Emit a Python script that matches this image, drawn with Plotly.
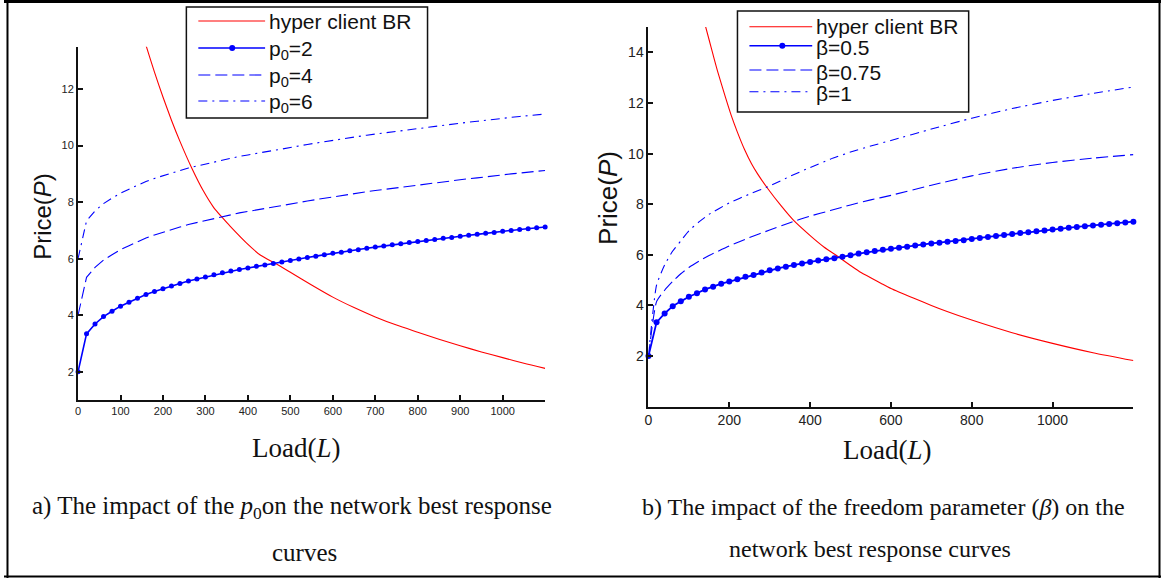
import plotly.graph_objects as go

# ---------------- data ----------------
# panel (a): impact of p0
load_a = list(range(0, 1101, 20))
p0_2 = [2.00, 3.34, 3.69, 3.95, 4.14, 4.32, 4.46, 4.60, 4.73, 4.84,
        4.94, 5.03, 5.12, 5.21, 5.28, 5.35, 5.43, 5.50, 5.56, 5.62,
        5.67, 5.73, 5.78, 5.83, 5.88, 5.94, 5.99, 6.04, 6.09, 6.14,
        6.19, 6.23, 6.28, 6.32, 6.37, 6.41, 6.45, 6.49, 6.53, 6.57,
        6.61, 6.64, 6.68, 6.72, 6.75, 6.79, 6.83, 6.86, 6.90, 6.93,
        6.97, 7.00, 7.03, 7.06, 7.09, 7.12]
p0_4 = [4.00, 5.34, 5.69, 5.95, 6.14, 6.32, 6.46, 6.60, 6.73, 6.84,
        6.94, 7.03, 7.12, 7.21, 7.28, 7.35, 7.43, 7.50, 7.56, 7.62,
        7.67, 7.73, 7.78, 7.83, 7.88, 7.94, 7.99, 8.04, 8.09, 8.14,
        8.19, 8.23, 8.28, 8.32, 8.37, 8.41, 8.45, 8.49, 8.53, 8.57,
        8.61, 8.64, 8.68, 8.72, 8.75, 8.79, 8.83, 8.86, 8.90, 8.93,
        8.97, 9.00, 9.03, 9.06, 9.09, 9.12]
p0_6 = [6.00, 7.34, 7.69, 7.95, 8.14, 8.32, 8.46, 8.60, 8.73, 8.84,
        8.94, 9.03, 9.12, 9.21, 9.28, 9.35, 9.43, 9.50, 9.56, 9.62,
        9.67, 9.73, 9.78, 9.83, 9.88, 9.94, 9.99, 10.04, 10.09, 10.14,
        10.19, 10.23, 10.28, 10.32, 10.37, 10.41, 10.45, 10.49, 10.53, 10.57,
        10.61, 10.64, 10.68, 10.72, 10.75, 10.79, 10.83, 10.86, 10.90, 10.93,
        10.97, 11.00, 11.03, 11.06, 11.09, 11.12]
br_load_a = [150, 161, 180, 200, 220, 240, 268, 295, 320, 340, 358, 397, 430,
             465, 500, 550, 600, 650, 700, 750, 800, 850, 900, 950, 1000,
             1050, 1100]
br_price_a = [14.05, 13.50, 12.60, 11.72, 10.90, 10.15, 9.20, 8.40, 7.80, 7.45,
              7.15, 6.55, 6.12, 5.83, 5.52, 5.07, 4.64, 4.27, 3.94, 3.65,
              3.40, 3.15, 2.92, 2.70, 2.50, 2.30, 2.12]

# panel (b): impact of beta
load_b = list(range(0, 1201, 20))
beta_05 = [2.00, 3.33, 3.68, 3.97, 4.16, 4.34, 4.48, 4.63, 4.74, 4.86,
           4.94, 5.03, 5.13, 5.20, 5.30, 5.39, 5.46, 5.53, 5.60, 5.66,
           5.72, 5.77, 5.82, 5.86, 5.92, 5.98, 6.05, 6.10, 6.15, 6.20,
           6.24, 6.28, 6.32, 6.37, 6.41, 6.45, 6.48, 6.52, 6.55, 6.58,
           6.62, 6.66, 6.70, 6.74, 6.78, 6.82, 6.86, 6.89, 6.93, 6.96,
           7.00, 7.03, 7.07, 7.10, 7.13, 7.16, 7.19, 7.22, 7.25, 7.28,
           7.31]
load_b_dash = [0, 20, 40, 60, 80, 100, 125, 150, 200, 250, 300, 350, 400,
               450, 500, 550, 600, 700, 800, 900, 1000, 1100, 1200]
beta_075 = [2.00, 4.15, 4.60, 4.95, 5.25, 5.50, 5.75, 5.97, 6.35, 6.68, 6.98,
            7.27, 7.53, 7.75, 7.97, 8.17, 8.35, 8.75, 9.12, 9.42, 9.65, 9.82,
            9.96]
beta_1 = [2.00, 4.80, 5.60, 6.15, 6.55, 6.95, 7.30, 7.60, 8.05, 8.40, 8.72,
          9.10, 9.45, 9.78, 10.06, 10.30, 10.52, 10.97, 11.40, 11.78, 12.10,
          12.38, 12.63]
br_load_b = [140, 150, 160, 172, 190, 205, 220, 238, 255, 270, 296, 329, 358,
             403, 435, 469, 500, 526, 575, 600, 657, 700, 739, 800, 900, 1000,
             1100, 1200]
br_price_b = [15.10, 14.50, 13.90, 13.20, 12.25, 11.50, 10.85, 10.15, 9.60, 9.20,
              8.60, 7.92, 7.38, 6.72, 6.30, 5.93, 5.58, 5.30, 4.88, 4.67, 4.28,
              4.00, 3.76, 3.42, 2.92, 2.50, 2.13, 1.82]

ticks_xa = list(range(0, 1001, 100))
ticks_ya = [2, 4, 6, 8, 10, 12]
ticks_xb = list(range(0, 1001, 200))
ticks_yb = [2, 4, 6, 8, 10, 12, 14]

# ---------------- styling ----------------
W, H = 1161, 578
RED = "#ff0000"
BLUE = "#0000ff"
SANS = "Liberation Sans, Arial, sans-serif"
SERIF = "Liberation Serif, Times New Roman, serif"
DASH = "12px,5px"
DASHDOT = "9px,5px,2px,5px"


def px(x):
    return x / W


def py(y):
    return 1 - y / H


fig = go.Figure()

# panel (a)
fig.add_trace(go.Scatter(x=br_load_a, y=br_price_a, mode="lines",
                         line=dict(color=RED, width=1.1, shape="spline", smoothing=0.6),
                         xaxis="x", yaxis="y"))
fig.add_trace(go.Scatter(x=load_a, y=p0_2, mode="lines+markers",
                         line=dict(color=BLUE, width=1.6),
                         marker=dict(color=BLUE, size=5), cliponaxis=False,
                         xaxis="x", yaxis="y"))
fig.add_trace(go.Scatter(x=load_a, y=p0_4, mode="lines",
                         line=dict(color=BLUE, width=1.1, dash=DASH),
                         xaxis="x", yaxis="y"))
fig.add_trace(go.Scatter(x=load_a, y=p0_6, mode="lines",
                         line=dict(color=BLUE, width=1.1, dash=DASHDOT),
                         xaxis="x", yaxis="y"))

# panel (b)
fig.add_trace(go.Scatter(x=br_load_b, y=br_price_b, mode="lines",
                         line=dict(color=RED, width=1.1, shape="spline", smoothing=0.6),
                         xaxis="x2", yaxis="y2"))
fig.add_trace(go.Scatter(x=load_b, y=beta_05, mode="lines+markers",
                         line=dict(color=BLUE, width=1.8),
                         marker=dict(color=BLUE, size=6), cliponaxis=False,
                         xaxis="x2", yaxis="y2"))
fig.add_trace(go.Scatter(x=load_b_dash, y=beta_075, mode="lines",
                         line=dict(color=BLUE, width=1.1, dash=DASH,
                                   shape="spline", smoothing=0.5),
                         xaxis="x2", yaxis="y2"))
fig.add_trace(go.Scatter(x=load_b_dash, y=beta_1, mode="lines",
                         line=dict(color=BLUE, width=1.1, dash=DASHDOT,
                                   shape="spline", smoothing=0.5),
                         xaxis="x2", yaxis="y2"))

axis_common = dict(showline=True, linecolor="#111", linewidth=2, mirror=False,
                   ticks="inside", ticklen=5, tickwidth=1.5, tickcolor="#111",
                   showgrid=False, zeroline=False)

fig.update_layout(
    width=W, height=H, margin=dict(l=0, r=0, t=0, b=0),
    paper_bgcolor="white", plot_bgcolor="rgba(0,0,0,0)", showlegend=False,
    xaxis=dict(domain=[px(74.3), px(543)], range=[0, 1100], tickvals=ticks_xa,
               anchor="y", tickfont=dict(family=SANS, size=11, color="#222"),
               **axis_common),
    yaxis=dict(domain=[py(400), py(46.7)], range=[1, 13.5], tickvals=ticks_ya,
               anchor="x", tickfont=dict(family=SANS, size=11, color="#222"),
               **axis_common),
    xaxis2=dict(domain=[px(646.7), px(1133.3)], range=[0, 1200], tickvals=ticks_xb,
                anchor="y2", tickfont=dict(family=SANS, size=14, color="#222"),
                **axis_common),
    yaxis2=dict(domain=[py(406.6), py(27.1)], range=[0, 15], tickvals=ticks_yb,
                anchor="x2", tickfont=dict(family=SANS, size=14, color="#222"),
                **axis_common),
)

shapes = []
annotations = []


def text(x, y, s, size, family=SANS, xanchor="center", angle=0):
    annotations.append(dict(x=px(x), y=py(y), xref="paper", yref="paper",
                            text=s, showarrow=False, xanchor=xanchor,
                            yanchor="middle", textangle=angle,
                            font=dict(family=family, size=size, color="#111")))


def hline(x0, x1, y, color, width, dash="solid"):
    shapes.append(dict(type="line", xref="paper", yref="paper",
                       x0=px(x0), x1=px(x1), y0=py(y), y1=py(y),
                       line=dict(color=color, width=width, dash=dash)))


def dot(x, y, r, color):
    shapes.append(dict(type="circle", xref="paper", yref="paper",
                       x0=px(x - r), x1=px(x + r), y0=py(y + r), y1=py(y - r),
                       fillcolor=color, line=dict(color=color, width=0)))


def box(x0, y0, x1, y1):
    shapes.append(dict(type="rect", xref="paper", yref="paper",
                       x0=px(x0), x1=px(x1), y0=py(y1), y1=py(y0),
                       fillcolor="white", line=dict(color="#111", width=1.5)))


# legend of panel (a)
box(183, 7, 425, 118)
rows_a = [21, 48, 75, 101]
hline(195, 262, rows_a[0], RED, 1.1)
hline(195, 262, rows_a[1], BLUE, 1.6)
dot(229, rows_a[1], 3, BLUE)
hline(195, 262, rows_a[2], BLUE, 1.1, DASH)
hline(195, 262, rows_a[3], BLUE, 1.1, DASHDOT)
text(264, rows_a[0], "hyper client BR", 21, xanchor="left")
text(264, rows_a[1] + 2, "p<sub>0</sub>=2", 21, xanchor="left")
text(264, rows_a[2] + 2, "p<sub>0</sub>=4", 21, xanchor="left")
text(264, rows_a[3] + 2, "p<sub>0</sub>=6", 21, xanchor="left")

# legend of panel (b)
box(736, 11, 968, 112)
rows_b = [26.7, 45.7, 70, 91.7]
hline(748, 811, rows_b[0], RED, 1.1)
hline(748, 811, rows_b[1], BLUE, 1.6)
dot(781, rows_b[1], 3, BLUE)
hline(748, 811, rows_b[2], BLUE, 1.1, DASH)
hline(748, 811, rows_b[3], BLUE, 1.1, DASHDOT)
text(813, rows_b[0], "hyper client BR", 21, xanchor="left")
text(813, rows_b[1] + 2, "β=0.5", 21, xanchor="left")
text(813, rows_b[2] + 2, "β=0.75", 21, xanchor="left")
text(813, rows_b[3] + 2, "β=1", 21, xanchor="left")

# axis titles
text(39, 216, "Price(<i>P</i>)", 24, angle=-90)
text(606, 198, "Price(<i>P</i>)", 26, angle=-90)
text(294, 448, "Load(<i>L</i>)", 27, family=SERIF)
text(887, 450, "Load(<i>L</i>)", 27, family=SERIF)

# captions
text(289, 507, "a) The impact of the <i>p</i><sub>0</sub>on the network best response",
     25, family=SERIF)
text(302, 552, "curves", 25, family=SERIF)
text(883, 507, "b) The impact of the freedom parameter (<i>β</i>) on the",
     24, family=SERIF)
text(869, 549, "network best response curves", 24, family=SERIF)

# frame around the figure pair
hline(0, W, 1.5, "#000", 3)
hline(0, W, 576.5, "#000", 2)
shapes.append(dict(type="line", xref="paper", yref="paper", x0=px(3.5), x1=px(3.5),
                   y0=0, y1=1, line=dict(color="#000", width=2)))
shapes.append(dict(type="line", xref="paper", yref="paper", x0=px(1159.5),
                   x1=px(1159.5), y0=0, y1=1, line=dict(color="#000", width=2)))

fig.update_layout(shapes=shapes, annotations=annotations)
fig.write_html("out.html")
